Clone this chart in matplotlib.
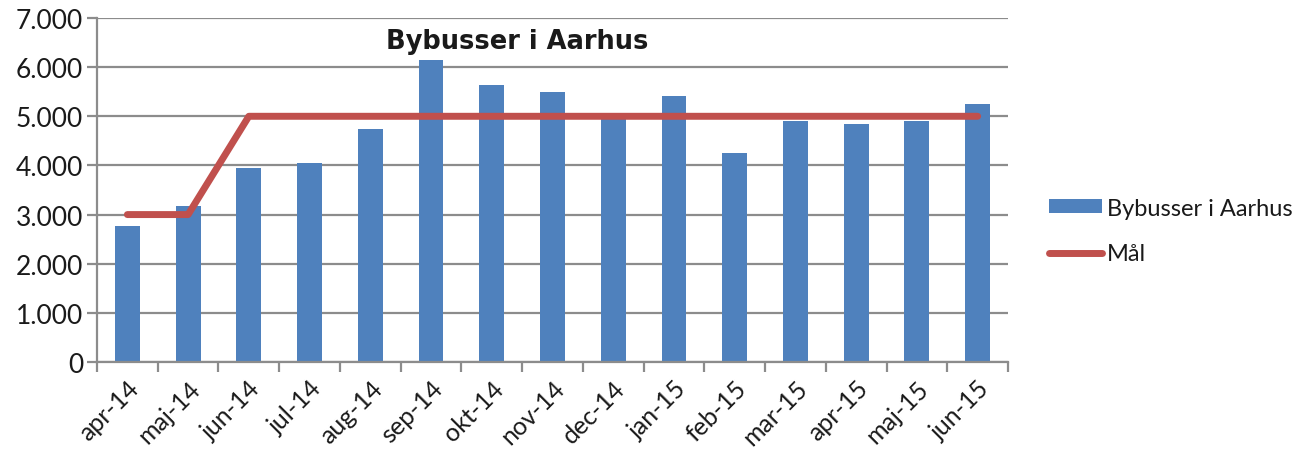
import numpy as np
import matplotlib.pyplot as plt
from matplotlib.ticker import FuncFormatter, FixedLocator
from matplotlib.patches import Patch
from matplotlib.lines import Line2D

# monthly figures, city buses in Aarhus
months = ['apr-14', 'maj-14', 'jun-14', 'jul-14', 'aug-14', 'sep-14', 'okt-14',
          'nov-14', 'dec-14', 'jan-15', 'feb-15', 'mar-15', 'apr-15', 'maj-15', 'jun-15']
bybusser = [2770, 3180, 3950, 4040, 4740, 6140, 5640, 5490, 5060, 5410,
            4250, 4900, 4840, 4900, 5240]
maal = [3000, 3000, 5000, 5000, 5000, 5000, 5000, 5000, 5000, 5000,
        5000, 5000, 5000, 5000, 5000]

blue = '#4F81BD'
red = '#C0504D'
grid_col = '#8C8C8C'
txt = '#1a1a1a'

plt.rcParams['font.family'] = ['Lato', 'DejaVu Sans']

fig = plt.figure(figsize=(13.03, 4.52), dpi=100)
ax = fig.add_axes([97/1303, 1-363/452, (1008-97)/1303, (363-19)/452])

xx = np.arange(len(months))
ax.bar(xx, bybusser, width=0.41, color=blue, zorder=2)
ax.plot(xx, maal, color=red, lw=5, solid_capstyle='round', zorder=3)

ax.set_xlim(-0.5, len(months) - 0.5)
ax.set_ylim(0, 7000)
ax.set_yticks(np.arange(0, 7001, 1000))
ax.yaxis.set_major_formatter(FuncFormatter(lambda v, p: f'{int(v):,}'.replace(',', '.')))
ax.yaxis.grid(True, color=grid_col, lw=1.6, zorder=0)
ax.set_axisbelow(True)

# category ticks on the boundaries, labels under the bars
ax.xaxis.set_major_locator(FixedLocator(np.arange(-0.5, len(months), 1)))
ax.set_xticklabels([])
ax.set_xticks(xx, minor=True)
ax.set_xticklabels(months, minor=True, rotation=45, ha='right', va='top',
                   rotation_mode='anchor', fontsize=18, color=txt)
ax.tick_params(axis='x', which='minor', length=0, pad=10)
ax.tick_params(axis='x', which='major', length=7, width=1.6, color=grid_col)
ax.tick_params(axis='y', length=7, width=1.6, color=grid_col, labelsize=19,
               labelcolor=txt, pad=3)

for s in ['top', 'right']:
    ax.spines[s].set_visible(False)
for s in ['left', 'bottom']:
    ax.spines[s].set_color(grid_col)
    ax.spines[s].set_linewidth(1.6)

fig.text(517/1303, 1-42/452, 'Bybusser i Aarhus', fontsize=18.5, fontweight='bold',
         family='DejaVu Sans', ha='center', va='center', color=txt)

handles = [Patch(facecolor=blue, edgecolor='none'),
           Line2D([0], [0], color=red, lw=5, solid_capstyle='round')]
fig.legend(handles, ['Bybusser i Aarhus', 'Mål'], loc='center left',
           bbox_to_anchor=(1049/1303, 1-232/452), frameon=False, fontsize=17,
           handlelength=2.25, handleheight=0.55, handletextpad=0.2, labelspacing=1.05,
           labelcolor=txt, borderaxespad=0, borderpad=0)

plt.savefig('out.png', dpi=100)
